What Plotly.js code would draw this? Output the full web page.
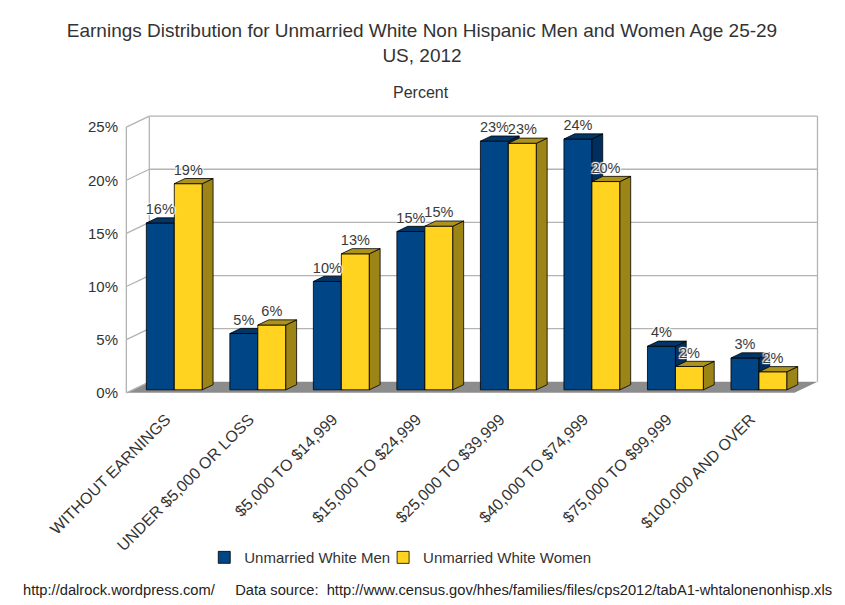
<!DOCTYPE html>
<html>
<head>
<meta charset="utf-8">
<script src="https://cdn.plot.ly/plotly-3.0.1.min.js"></script>
<style>html,body{margin:0;padding:0;background:#fff;}#chart{width:845px;height:605px;}</style>
</head>
<body>
<div id="chart"></div>
<script>
// ---- data ----
const categories = ["WITHOUT EARNINGS", "UNDER $5,000 OR LOSS", "$5,000 TO $14,999", "$15,000 TO $24,999",
  "$25,000 TO $39,999", "$40,000 TO $74,999", "$75,000 TO $99,999", "$100,000 AND OVER"];
const menValues   = [15.7, 5.3, 10.2, 14.9, 23.4, 23.6, 4.1, 3.0];
const womenValues = [19.4, 6.1, 12.8, 15.4, 23.2, 19.6, 2.2, 1.7];
const yTickValues = [0, 5, 10, 15, 20, 25];
const menName = "Unmarried White Men";
const womenName = "Unmarried White Women";

// ---- geometry (pseudo 3D) ----
const U = 83.6;        // px per category
const PY = 10.64;      // px per percent
const D = 23 / U;      // wall depth in x units
const DY = 11 / PY;    // wall depth in y units
const FRONT = 0.27;    // bar front plane position in depth
const BDEPTH = 0.47;   // bar depth fraction
const SX = FRONT * D, SY = FRONT * DY;
const d = BDEPTH * D, h = BDEPTH * DY;
const W = 0.335;       // bar width
const X0 = -0.5, X1 = categories.length - 0.5;
const xr = [X0 - 0.04, X1 + D + 0.03];
const yr = [-0.3, 25 + DY + 0.2];
const frontLeftPx = 126, zeroPx = 393;
const L = frontLeftPx - (X0 - xr[0]) * U;
const plotW = (xr[1] - xr[0]) * U;
const R = 845 - L - plotW;
const B = 605 - zeroPx - (0 - yr[0]) * PY;
const plotH = (yr[1] - yr[0]) * PY;
const T = 605 - B - plotH;
const pxX = px => (px - L) / plotW;
const pxY = py => (605 - B - py) / plotH;

const menC = "#004586", menSide = "#002f5e", menTop = "#003668";
const womC = "#ffd320", womSide = "#9c8416", womTop = "#ad931c";

function faces(values, off, which) {
  const xs = [], ys = [];
  values.forEach((v, i) => {
    const xl = i + off, xR = xl + W, b = SY, t = SY + v;
    if (which === "side") {
      xs.push(xR, xR + d, xR + d, xR, xR, null);
      ys.push(b, b + h, t + h, t, b, null);
    } else {
      xs.push(xl, xl + d, xR + d, xR, xl, null);
      ys.push(t, t + h, t + h, t, t, null);
    }
  });
  return {x: xs, y: ys};
}
function faceTrace(values, off, which, color, xa, ya) {
  const f = faces(values, off, which);
  return {type: "scatter", mode: "lines", x: f.x, y: f.y, fill: "toself", fillcolor: color,
    line: {color: "#000", width: 0.8}, hoverinfo: "skip", showlegend: false, xaxis: xa, yaxis: ya};
}
const idx = categories.map((c, i) => i);
const menOff = -W + SX, womOff = SX;
const font = "Liberation Sans, Arial, sans-serif";
const labelFont = {family: font, size: 14.5, color: "#3a3a3a", shadow: "1px 1px 1px #fff, -1px -1px 1px #fff, 1px -1px 1px #fff, -1px 1px 1px #fff"};

const traces = [
  {type: "bar", name: menName, x: idx, y: menValues, base: idx.map(() => SY), offset: menOff, width: W,
   marker: {color: menC, line: {color: "#000", width: 0.8}}, xaxis: "x", yaxis: "y", legend: "legend"},
  faceTrace(menValues, menOff, "side", menSide, "x", "y"),
  faceTrace(menValues, menOff, "top", menTop, "x", "y"),
  {type: "bar", name: womenName, x: idx, y: womenValues, base: idx.map(() => SY), offset: womOff, width: W,
   marker: {color: womC, line: {color: "#000", width: 0.8}}, xaxis: "x2", yaxis: "y2", legend: "legend2"},
  faceTrace(womenValues, womOff, "side", womSide, "x2", "y2"),
  faceTrace(womenValues, womOff, "top", womTop, "x2", "y2"),
  {type: "scatter", mode: "text", x: idx.map(i => i + menOff + W / 2), y: menValues.map(v => SY + v + h),
   text: menValues.map(v => Math.round(v) + "%"), textposition: "top center", textfont: labelFont,
   hoverinfo: "skip", showlegend: false, xaxis: "x2", yaxis: "y2"},
  {type: "scatter", mode: "text", x: idx.map(i => i + womOff + W / 2), y: womenValues.map(v => SY + v + h),
   text: womenValues.map(v => Math.round(v) + "%"), textposition: "top center", textfont: labelFont,
   hoverinfo: "skip", showlegend: false, xaxis: "x2", yaxis: "y2"}
];

const grid = "#b3b3b3";
const shapes = [];
// floor
shapes.push({type: "path", layer: "below", xref: "x", yref: "y",
  path: `M${X0},0 L${X1},0 L${X1 + D},${DY} L${X0 + D},${DY} Z`, fillcolor: "#8c8c8c", line: {width: 0}});
yTickValues.forEach(t => {
  if (t > 0) shapes.push({type: "line", layer: "below", xref: "x", yref: "y", x0: X0 + D, x1: X1 + D, y0: t + DY, y1: t + DY, line: {color: grid, width: 1.3}});
  shapes.push({type: "line", layer: "below", xref: "x", yref: "y", x0: X0, x1: X0 + D, y0: t, y1: t + DY, line: {color: grid, width: 1.3}});
});
shapes.push({type: "line", layer: "below", xref: "x", yref: "y", x0: X0, x1: X0, y0: 0, y1: 25, line: {color: grid, width: 1.3}});
shapes.push({type: "line", layer: "below", xref: "x", yref: "y", x0: X0 + D, x1: X0 + D, y0: DY, y1: 25 + DY, line: {color: grid, width: 1.3}});
shapes.push({type: "line", layer: "below", xref: "x", yref: "y", x0: X1 + D, x1: X1 + D, y0: DY, y1: 25 + DY, line: {color: grid, width: 1.3}});

const legendBase = {orientation: "h", xanchor: "left", y: pxY(558), yanchor: "middle",
  font: {family: font, size: 15, color: "#333"}, itemwidth: 30, bgcolor: "rgba(0,0,0,0)"};

const layout = {
  width: 845, height: 605,
  margin: {l: L, r: R, t: T, b: B, pad: 0},
  paper_bgcolor: "#fff", plot_bgcolor: "rgba(0,0,0,0)",
  font: {family: font, color: "#333", size: 13},
  title: {text: "Earnings Distribution for Unmarried White Non Hispanic Men and Women Age 25-29<br>US, 2012",
    x: 422 / 845, xref: "container", xanchor: "center", y: 1 - 37 / 605, yref: "container", yanchor: "top",
    font: {family: font, size: 19, color: "#333"}},
  barmode: "overlay",
  showlegend: true,
  legend: Object.assign({}, legendBase, {x: pxX(204)}),
  legend2: Object.assign({}, legendBase, {x: pxX(383)}),
  xaxis: {range: xr, tickmode: "array", tickvals: idx.map(i => i + SX - 0.1), ticktext: categories, tickangle: -45,
    showgrid: false, zeroline: false, showline: false, ticks: "", fixedrange: true, ticklabelstandoff: 10,
    tickfont: {family: font, size: 16, color: "#333"}},
  yaxis: {range: yr, tickmode: "array", tickvals: yTickValues, ticktext: yTickValues.map(v => v + "%"),
    showgrid: false, zeroline: false, showline: false, ticks: "", fixedrange: true, ticklabelstandoff: 4,
    tickfont: {family: font, size: 15, color: "#333"}},
  xaxis2: {range: xr, overlaying: "x", visible: false, fixedrange: true},
  yaxis2: {range: yr, overlaying: "y", visible: false, fixedrange: true},
  shapes: shapes,
  annotations: [
    {text: "Percent", xref: "paper", yref: "paper", x: pxX(421), y: pxY(92), xanchor: "center", yanchor: "middle",
     showarrow: false, font: {family: font, size: 16, color: "#333"}},
    {text: "http://dalrock.wordpress.com/     Data source:  http://www.census.gov/hhes/families/files/cps2012/tabA1-whtalonenonhisp.xls",
     xref: "paper", yref: "paper", x: pxX(21), y: pxY(590), xanchor: "left", yanchor: "middle",
     showarrow: false, font: {family: font, size: 14.7, color: "#222"}}
  ]
};
Plotly.newPlot("chart", traces, layout, {displayModeBar: false, staticPlot: true});
</script>
</body>
</html>
